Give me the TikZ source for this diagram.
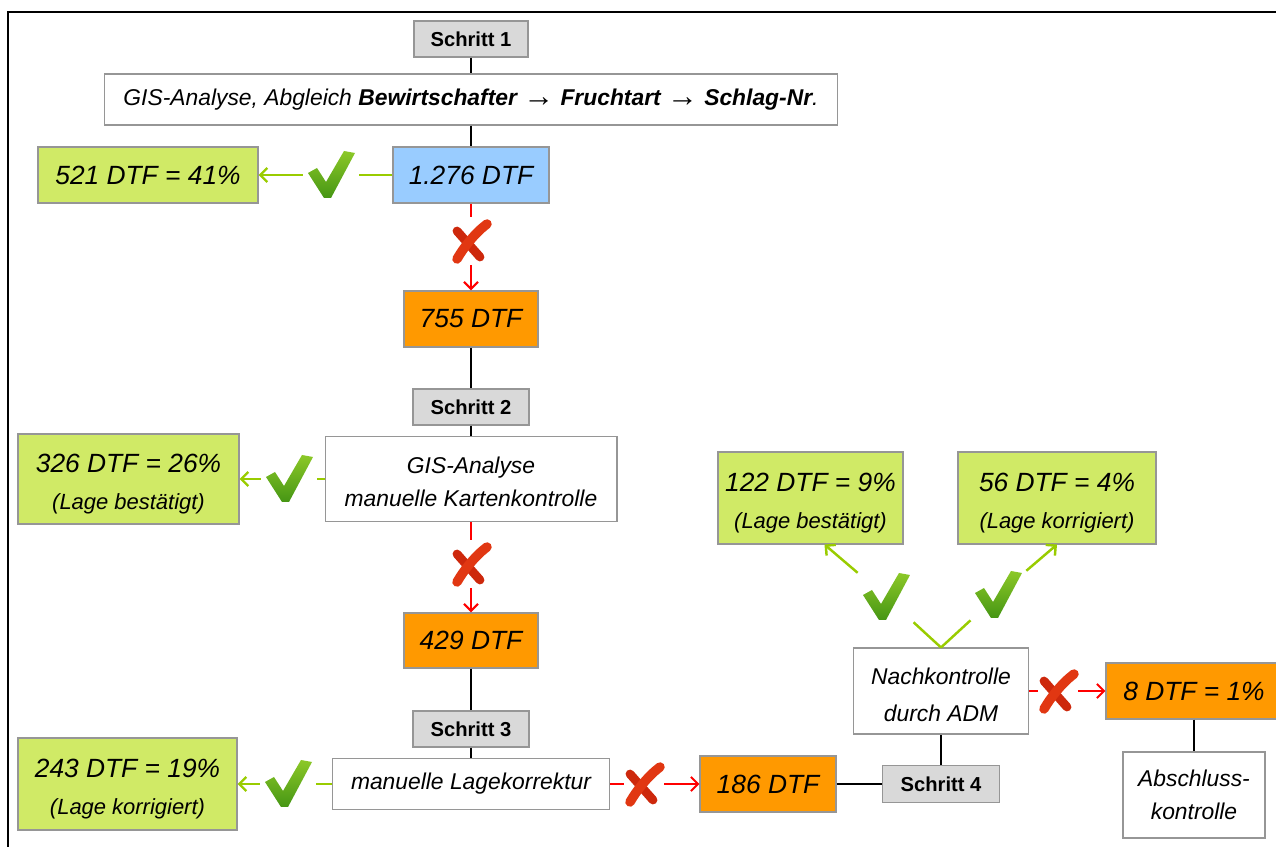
\documentclass[tikz,border=0pt]{standalone}
\usepackage{fontspec}
\setmainfont{Liberation Sans}
\usetikzlibrary{arrows.meta}
\definecolor{framegray}{RGB}{150,150,150}
\definecolor{stepgray}{RGB}{217,217,217}
\definecolor{okgreen}{RGB}{208,234,102}
\definecolor{openorange}{RGB}{255,153,0}
\definecolor{startblue}{RGB}{153,204,255}
\definecolor{okline}{RGB}{153,204,0}
\definecolor{tickhi}{RGB}{140,200,40}
\definecolor{ticklo}{RGB}{70,150,20}
\definecolor{crossdark}{RGB}{205,40,12}
\definecolor{crosslight}{RGB}{225,55,18}
\newcommand\lagetext[1]{{\fontsize{12.5}{15}\selectfont #1}}
\newcommand\bigarrow{\raisebox{-0.5pt}{\scalebox{1.35}{→}}}
\tikzstyle{box} = [rectangle, draw=framegray, line width=0.6pt, inner sep=0pt, align=center, font=\itshape\fontsize{13}{19}\selectfont]
\tikzstyle{schritt} = [box, fill=stepgray, minimum width=2.32cm, minimum height=0.72cm, font=\bfseries\fontsize{11.5}{14}\selectfont]
\tikzstyle{count} = [box, minimum height=1.12cm, font=\itshape\fontsize{15}{18}\selectfont]
\tikzstyle{okbox} = [count, fill=okgreen]
\tikzstyle{openbox} = [count, fill=openorange, minimum width=2.68cm]
\tikzstyle{tick} = [rectangle, minimum width=1.12cm, minimum height=1cm, inner sep=0pt]
\tikzstyle{cross} = [rectangle, minimum width=0.8cm, minimum height=0.96cm, inner sep=0pt]
\tikzstyle{yes} = [okline, line width=1.4pt]
\tikzstyle{no} = [red, line width=1.2pt]
\tikzset{
  tickmark/.pic={
    \shade[top color=tickhi, bottom color=ticklo]
      (-23,-2) -- (-14,-7) -- (-5,7) -- (13,-24) -- (24,-22) -- (0,23) -- (-7,23) -- cycle;
  },
  crossmark/.pic={
    \draw[crossdark, line width=5pt, line cap=round] (-14,-10) -- (9,16);
    \draw[crosslight, line width=5.4pt, line cap=round] (16,-17) .. controls (4,-8) and (-7,6) .. (-14,18);
  }
}

\begin{document}
\begin{tikzpicture}[x=0.02cm, y=-0.02cm]
        \useasboundingbox (0,0) rectangle (1276,847);
        \draw[line width=1.2pt] (8,847) -- (8,12) -- (1276,12);
        % Schritt 1
        \node[schritt, minimum width=2.28cm] (s1) at (471,39) {Schritt 1};
        \node[box, minimum width=14.66cm, minimum height=1.02cm] (gis1) at (471,99.5) {GIS-Analyse, Abgleich \textbf{Bewirtschafter \bigarrow{} Fruchtart \bigarrow{} Schlag-Nr}.};
        \node[count, fill=startblue, minimum width=3.12cm] (n1276) at (471,175) {1.276 DTF};
        \node[okbox, minimum width=4.4cm] (p521) at (148,175) {521 DTF = 41\%};
        \node[openbox] (n755) at (471,319) {755 DTF};
        % Schritt 2
        \node[schritt] (s2) at (471,407) {Schritt 2};
        \node[box, minimum width=5.84cm, minimum height=1.7cm] (gis2) at (471,479) {\rule{0pt}{13pt}GIS-Analyse\\manuelle Kartenkontrolle};
        \node[okbox, minimum width=4.42cm, minimum height=1.8cm] (p326) at (128.5,479) {\rule{0pt}{16pt}326 DTF = 26\%\\[3pt]\lagetext{(Lage bestätigt)}};
        \node[openbox, minimum height=1.1cm] (n429) at (471,640.5) {429 DTF};
        % Schritt 3
        \node[schritt] (s3) at (471,729) {Schritt 3};
        \node[box, minimum width=5.54cm, minimum height=1.02cm] (lage) at (471,784) {manuelle Lagekorrektur};
        \node[okbox, minimum width=4.38cm, minimum height=1.84cm] (p243) at (127.5,784) {\rule{0pt}{16pt}243 DTF = 19\%\\[3pt]\lagetext{(Lage korrigiert)}};
        \node[openbox, minimum width=2.72cm] (n186) at (768,784) {186 DTF};
        % Schritt 4
        \node[schritt, minimum width=2.34cm, minimum height=0.74cm] (s4) at (941,784) {Schritt 4};
        \node[box, minimum width=3.5cm, minimum height=1.72cm] (nk) at (941,691) {\rule{0pt}{14pt}Nachkontrolle\\[2pt]durch ADM};
        \node[openbox, minimum width=3.52cm] (p8) at (1194,691) {8 DTF = 1\%};
        \node[box, minimum width=2.84cm, minimum height=1.72cm] (absch) at (1194,795) {Abschluss-\\kontrolle};
        \node[okbox, minimum width=3.7cm, minimum height=1.84cm] (p122) at (810.5,498) {\rule{0pt}{16pt}122 DTF = 9\%\\[3pt]\lagetext{(Lage bestätigt)}};
        \node[okbox, minimum width=3.96cm, minimum height=1.84cm] (p56) at (1057,498) {\rule{0pt}{16pt}56 DTF = 4\%\\[3pt]\lagetext{(Lage korrigiert)}};
        % Haken und Kreuze
        \node[tick] (t1) at (331,175) {};
        \node[tick] (t2) at (289,479) {};
        \node[tick] (t3) at (288,784) {};
        \node[tick] (t4) at (886,597) {};
        \node[tick] (t5) at (998,595) {};
        \node[cross] (x1) at (471,241) {};
        \node[cross] (x2) at (471,564) {};
        \node[cross] (x3) at (644,784) {};
        \node[cross] (x4) at (1058,691) {};
        \foreach \t in {t1,t2,t3,t4,t5} \pic at (\t) {tickmark};
        \foreach \x in {x1,x2,x3,x4} \pic at (\x) {crossmark};
        % Verbindungen
        \draw[line width=0.6pt] (s1) -- (gis1) -- (n1276);
        \draw[line width=0.6pt] (n755) -- (s2) -- (gis2);
        \draw[line width=0.6pt] (n429) -- (s3) -- (lage);
        \draw[line width=0.6pt] (n186) -- (s4) -- (nk);
        \draw[line width=0.6pt] (p8) -- (absch);
        \draw[yes] (n1276) -- (t1);
        \draw[yes] (gis2) -- (t2);
        \draw[yes] (lage) -- (t3);
        \draw[yes] (nk.north) -- (t4);
        \draw[yes] (nk.north) -- (t5);
        \draw[no] (n1276) -- (x1);
        \draw[no] (gis2) -- (x2);
        \draw[no] (lage) -- (x3);
        \draw[no] (nk) -- (x4);
        \begin{scope}[-{Straight Barb[length=4pt,width=8pt]}]
            \draw[yes] (t1) -- (p521);
            \draw[yes] (t2) -- (p326);
            \draw[yes] (t3) -- (p243);
            \draw[yes] (t4) -- ([xshift=0.28cm]p122.south);
            \draw[yes] (t5) -- (p56.south);
            \draw[no] (x1) -- (n755);
            \draw[no] (x2) -- (n429);
            \draw[no] (x3) -- (n186);
            \draw[no] (x4) -- (p8);
        \end{scope}
    \end{tikzpicture}
\end{document}
